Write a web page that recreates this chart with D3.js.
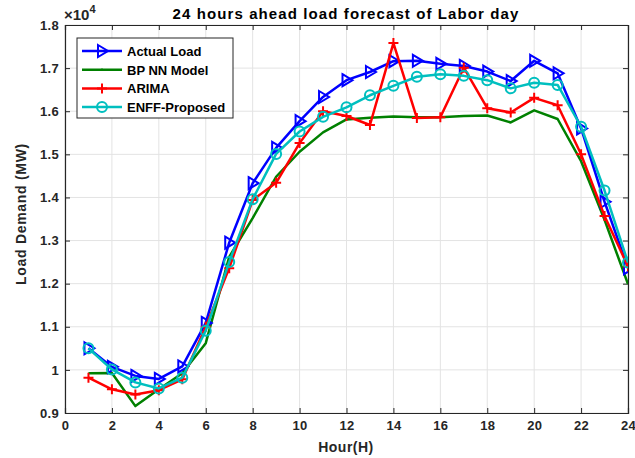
<!DOCTYPE html>
<html><head><meta charset="utf-8">
<script src="https://cdn.jsdelivr.net/npm/d3@7"></script>
<style>body{margin:0;background:#fff;} text{font-family:"Liberation Sans",Arial,sans-serif;font-weight:bold;}</style>
</head><body><svg id="c" width="635" height="458"></svg>
<script>
const hours = d3.range(1,25);
const actualLoad = [1.050,1.007,0.986,0.979,1.008,1.109,1.295,1.433,1.515,1.577,1.633,1.672,1.691,1.716,1.717,1.710,1.705,1.692,1.670,1.717,1.688,1.560,1.390,1.236];
const bpnn =       [0.992,0.993,0.916,0.955,0.992,1.062,1.262,1.352,1.448,1.506,1.551,1.581,1.585,1.588,1.586,1.586,1.589,1.590,1.574,1.602,1.582,1.484,1.348,1.199];
const arima =      [0.982,0.955,0.943,0.953,0.978,1.100,1.236,1.394,1.434,1.526,1.600,1.589,1.568,1.758,1.584,1.586,1.701,1.607,1.597,1.631,1.614,1.500,1.357,1.240];
const enff =       [1.050,1.001,0.971,0.957,0.982,1.091,1.250,1.396,1.501,1.553,1.587,1.609,1.637,1.659,1.680,1.686,1.682,1.672,1.653,1.666,1.661,1.564,1.416,1.249];
const xTicks = d3.range(0,25,2);
const yTicks = [0.9,1.0,1.1,1.2,1.3,1.4,1.5,1.6,1.7,1.8];
const seriesNames = ["Actual Load","BP NN Model","ARIMA","ENFF-Proposed"];
const seriesColors = ["#0000ff","#008000","#ff0000","#00bfbf"];
const seriesMarkers = ["tri","none","plus","circle"];
const seriesData = [actualLoad,bpnn,arima,enff];

const svg = d3.select("#c");
const L=65,R=628,T=25,B=413;
const x = d3.scaleLinear().domain([0,24]).range([L,R]);
const y = d3.scaleLinear().domain([0.9,1.8]).range([B,T]);

// grid
const g = svg.append("g");
g.selectAll(".gx").data(xTicks).enter().append("line")
 .attr("x1",d=>x(d)).attr("x2",d=>x(d)).attr("y1",T).attr("y2",B)
 .attr("stroke","#e3e3e3").attr("stroke-width",1);
g.selectAll(".gy").data(yTicks).enter().append("line")
 .attr("y1",d=>y(d)).attr("y2",d=>y(d)).attr("x1",L).attr("x2",R)
 .attr("stroke","#e3e3e3").attr("stroke-width",1);

// axes
const fmtY = d=> (d===1?"1":d3.format(".1f")(d));
const ax = svg.append("g").attr("transform",`translate(0,${B})`)
 .call(d3.axisBottom(x).tickValues(xTicks).tickSize(-5).tickPadding(8).tickFormat(d3.format("d")));
const ay = svg.append("g").attr("transform",`translate(${L},0)`)
 .call(d3.axisLeft(y).tickValues(yTicks).tickSize(-5).tickPadding(6).tickFormat(fmtY));
const axT = svg.append("g").attr("transform",`translate(0,${T})`)
 .call(d3.axisTop(x).tickValues(xTicks).tickSize(-5).tickFormat(""));
const ayR = svg.append("g").attr("transform",`translate(${R},0)`)
 .call(d3.axisRight(y).tickValues(yTicks).tickSize(-5).tickFormat(""));
[ax,ay,axT,ayR].forEach(a=>{
  a.selectAll("path").attr("stroke","#262626").attr("stroke-width",1.2);
  a.selectAll("line").attr("stroke","#262626");
  a.selectAll("text").attr("fill","#262626").style("font-size","13px").style("font-weight","bold").style("letter-spacing","0.3px");
});

// clip
svg.append("clipPath").attr("id","clip").append("rect").attr("x",L).attr("y",T).attr("width",R-L).attr("height",B-T);

const line = d3.line().x((d,i)=>x(hours[i])).y(d=>y(d));
function marker(sel,type,color){
  if(type==="tri"){
    sel.append("path").attr("d","M-4,-6 L6,0 L-4,6 Z").attr("fill","none").attr("stroke",color).attr("stroke-width",2);
  } else if(type==="plus"){
    sel.append("path").attr("d","M-5,0 L5,0 M0,-5 L0,5").attr("stroke",color).attr("stroke-width",2);
  } else if(type==="circle"){
    sel.append("circle").attr("r",5).attr("fill","none").attr("stroke",color).attr("stroke-width",2);
  }
}
const plot = svg.append("g").attr("clip-path","url(#clip)");
const order=[1,0,2,3];
order.forEach(k=>{
  plot.append("path").datum(seriesData[k]).attr("d",line).attr("fill","none")
   .attr("stroke",seriesColors[k]).attr("stroke-width",2.5).attr("stroke-linejoin","round");
  if(seriesMarkers[k]!=="none"){
    seriesData[k].forEach((v,i)=>{
      const m = plot.append("g").attr("transform",`translate(${x(hours[i])},${y(v)})`);
      marker(m,seriesMarkers[k],seriesColors[k]);
    });
  }
});

// title etc
svg.append("text").attr("x",346).attr("y",19).attr("text-anchor","middle").style("font-size","15px").style("letter-spacing","1.1px").attr("fill","#000")
 .text("24 hours ahead load forecast of Labor day");
const ex = svg.append("text").attr("x",64).attr("y",20).style("font-size","15px").attr("fill","#262626");
ex.append("tspan").text("\u00d710");
ex.append("tspan").attr("dy",-7).style("font-size","11px").text("4");
svg.append("text").attr("x",346).attr("y",452).attr("text-anchor","middle").style("font-size","14px").style("letter-spacing","0.5px").attr("fill","#262626").text("Hour(H)");
svg.append("text").attr("transform","translate(26,214) rotate(-90)").attr("text-anchor","middle").style("font-size","14px").style("letter-spacing","0.7px").attr("fill","#262626").text("Load Demand (MW)");

// legend
const lg = svg.append("g");
lg.append("rect").attr("x",77).attr("y",38).attr("width",156).attr("height",80).attr("fill","#fff").attr("stroke","#262626").attr("stroke-width",1);
seriesNames.forEach((n,k)=>{
  const yy = 51 + k*18.7;
  lg.append("line").attr("x1",82).attr("x2",122).attr("y1",yy).attr("y2",yy).attr("stroke",seriesColors[k]).attr("stroke-width",2.5);
  if(seriesMarkers[k]!=="none"){
    const m = lg.append("g").attr("transform",`translate(102,${yy})`);
    marker(m,seriesMarkers[k],seriesColors[k]);
  } else {
    lg.append("circle").attr("cx",102).attr("cy",yy).attr("r",1.2).attr("fill",seriesColors[k]);
  }
  lg.append("text").attr("x",127).attr("y",yy+5).style("font-size","13px").attr("fill","#000").text(n);
});
</script></body></html>
